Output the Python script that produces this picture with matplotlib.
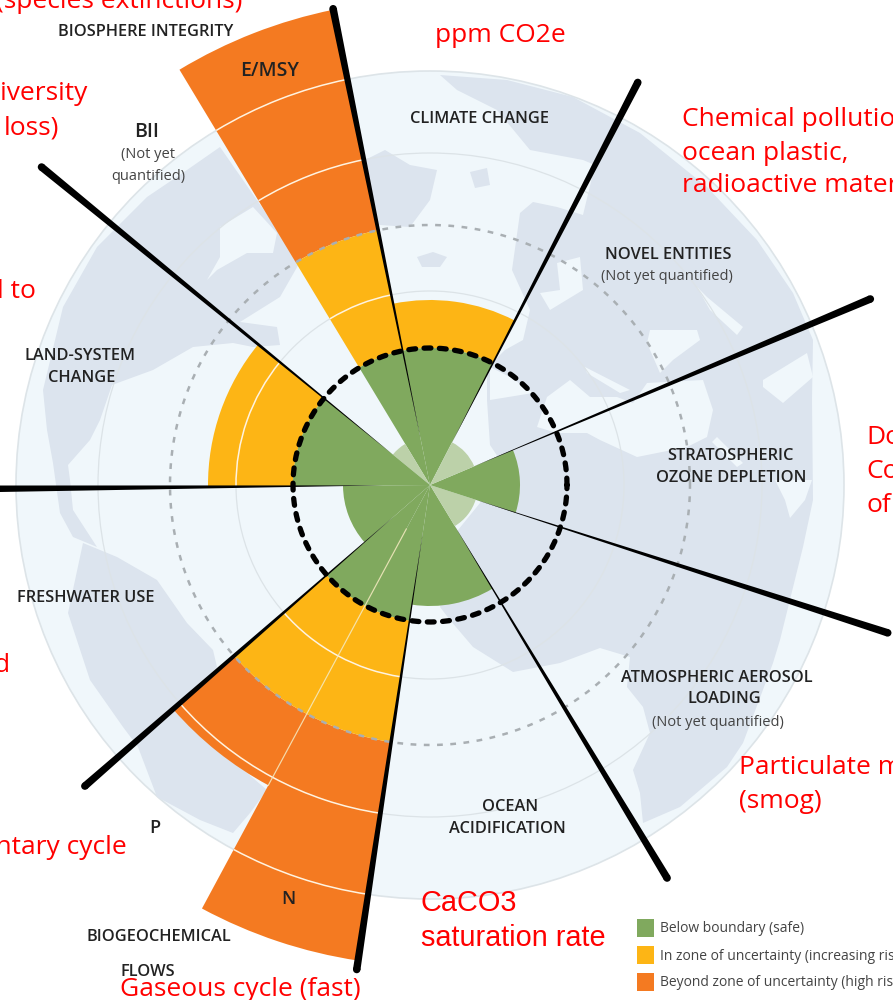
import numpy as np
import matplotlib
matplotlib.use("Agg")
import matplotlib.pyplot as plt
from matplotlib.patches import Wedge, Circle, Polygon, Arc

plt.rcParams["font.family"] = ["Open Sans", "DejaVu Sans"]

# reference centre of the diagram, in image pixels
cx, cy = 430, 485
W, H = 893, 1000

GREEN = "#80A95E"
PALE = "#BCD1A9"
YELLOW = "#FDB515"
ORANGE = "#F47A21"
LAND = "#DCE4EE"
SEA = "#F0F7FB"

# control variables, angles in degrees counter clockwise from east
sector_names = ["Climate", "E/MSY", "BII", "Land", "Freshwater", "P", "N", "Ocean", "Aerosol", "Ozone", "Novel"]
sector_start = [62.7, 101.5, 121.1, 140.7, 180.5, 221.1, 241.7, 261.4, 301.1, 342.1, 22.9]
sector_end = [101.5, 121.1, 140.7, 180.5, 221.1, 241.7, 261.4, 301.1, 342.1, 382.9, 62.7]
safe_r = [137, 137, 0, 137, 87, 137, 137, 121, 0, 90, 0]
uncertain_r = [185, 260, 0, 222, 0, 260, 260, 0, 0, 0, 0]
beyond_r = [0, 485, 0, 0, 0, 341, 481, 0, 0, 0, 0]
pale_r = [0, 0, 48, 0, 0, 0, 0, 0, 48, 0, 48]

spoke_angles = [101.5, 62.7, 22.9, -17.9, -58.9, 261.4, 221.1, 180.5, 140.7]
spoke_lengths = [486, 453, 478, 481, 459, 490, 458, 490, 502]

boundary_r = 137
uncertainty_r = 260
grid_r = [194, 332, 414]

# rough continents of the background map, image pixels
north_america = [(220,147),(187,170),(147,197),(97,247),(63,307),(43,390),(47,430),(53,463),(60,513),(73,537),(97,547),
                 (73,510),(70,480),(68,465),(90,440),(100,420),(112,385),(153,370),(193,347),(233,343),(253,347),
                 (280,345),(277,327),(240,322),(280,297),(300,262)]
hudson_bay = [(220,227),(253,207),(277,233),(273,253),(247,253),(217,270),(207,280),(220,257)]
south_america = [(83,543),(117,557),(157,580),(187,623),(213,650),(217,667),(177,713),(267,790),(250,813),(233,833),
                 (200,820),(157,797),(138,747),(123,727),(90,680),(68,613)]
greenland = [(365,160),(385,150),(410,165),(437,170),(430,200),(410,227),(380,225),(355,215)]
iceland = [(417,257),(433,252),(447,257),(440,267),(422,267)]
eurasia_africa = [(440,75),(507,80),(573,97),(640,133),(707,187),(757,240),(793,293),(813,340),(812,400),(813,500),
                  (803,547),(780,640),(773,663),(743,743),(727,767),(680,807),(643,823),(640,793),(633,770),(650,733),
                  (643,707),(627,687),(630,657),(600,648),(560,663),(513,672),(473,647),(450,620),(440,607),(458,530),
                  (480,503),(500,460),(490,445),(487,400),(487,368),(505,350),(523,340),(530,310),(512,270),(520,213),
                  (533,202),(557,207),(583,215),(595,165),(583,160),(530,150),(497,110),(457,90)]
small_island = [(470,172),(487,168),(490,185),(475,188)]
baltic = [(557,263),(580,257),(583,290),(550,310),(540,293),(560,290)]
biscay = [(490,367),(510,377),(533,393),(490,400)]
mediterranean = [(537,427),(547,397),(570,380),(590,397),(617,397),(633,403),(647,383),(703,380),(713,410),(707,437),
                 (687,447),(637,457),(600,440),(587,433),(557,433)]
black_sea = [(650,330),(697,330),(700,340),(673,360),(660,373),(647,343)]
caspian = [(697,287),(707,297),(743,327),(737,335),(710,310)]
adriatic = [(585,367),(630,390),(620,393),(587,373)]
gulf = [(763,380),(807,353),(813,377),(783,403),(763,387)]
red_sea = [(717,437),(743,463),(737,467),(712,442)]
india_sea = [(775,480),(812,480),(805,500),(790,518),(785,500)]

label_color = "#222222"
note_color = "#444444"


def to_xy(points):
    return [(x - cx, cy - y) for x, y in points]


def put(x, y, s, **kw):
    kw.setdefault("ha", "center")
    kw.setdefault("va", "center")
    kw.setdefault("zorder", 20)
    ax.text(x - cx, cy - y, s, **kw)


fig = plt.figure(figsize=(W / 100, H / 100), dpi=100)
ax = fig.add_axes([0, 0, 1, 1])
ax.set_xlim(-cx, W - cx)
ax.set_ylim(cy - H, cy)
ax.set_aspect("equal")
ax.axis("off")

# globe
ax.add_patch(Circle((0, 0), grid_r[2], fc=SEA, ec="#DDE4E8", lw=1.2, zorder=1))
for shape in [north_america, south_america, greenland, iceland, eurasia_africa, small_island]:
    ax.add_patch(Polygon(to_xy(shape), fc=LAND, ec="none", zorder=2))
for shape in [hudson_bay, baltic, biscay, mediterranean, black_sea, caspian, adriatic, gulf, red_sea, india_sea]:
    ax.add_patch(Polygon(to_xy(shape), fc=SEA, ec="none", zorder=3))
for r in grid_r[:2]:
    ax.add_patch(Circle((0, 0), r, fc="none", ec="#DCE3E7", lw=0.9, zorder=4))

# sectors
for a, b, s, u, o, p in zip(sector_start, sector_end, safe_r, uncertain_r, beyond_r, pale_r):
    if o:
        ax.add_patch(Wedge((0, 0), o, a, b, width=o - u, fc=ORANGE, ec="none", zorder=6))
    if u:
        ax.add_patch(Wedge((0, 0), u, a, b, width=u - s, fc=YELLOW, ec="none", zorder=6))
    if s:
        ax.add_patch(Wedge((0, 0), s, a, b, fc=GREEN, ec="none", zorder=6))
    if p:
        ax.add_patch(Wedge((0, 0), p, a, b, fc=PALE, ec="none", zorder=6))
    # white scale arcs across the coloured parts
    for r in grid_r:
        if s < r < max(u, o):
            ax.add_patch(Arc((0, 0), 2 * r, 2 * r, theta1=a, theta2=b, color="#FFF3E0", lw=1.1, zorder=7))

# pale divider between P and N
div = np.radians(sector_start[6])
ax.plot([50 * np.cos(div), beyond_r[5] * np.cos(div)], [50 * np.sin(div), beyond_r[5] * np.sin(div)],
        color="#F5E9BE", lw=0.9, alpha=0.8, zorder=7)

# dashed circles
t = np.linspace(0, 2 * np.pi, 720)
ax.plot(uncertainty_r * np.cos(t), uncertainty_r * np.sin(t), color="#A9AFB3", lw=1.8,
        dashes=(2.3, 3.0), zorder=8)
ax.plot(boundary_r * np.cos(t), boundary_r * np.sin(t), color="black", lw=3.8,
        dashes=(1.3, 1.6), dash_capstyle="round", zorder=10)

# tapered spokes
start_r = 47
tip_w = 7.5
for ang, length in zip(spoke_angles, spoke_lengths):
    th = np.radians(ang)
    d = np.array([np.cos(th), np.sin(th)])
    n = np.array([-d[1], d[0]])
    ax.add_patch(Polygon([start_r * d, length * d + n * tip_w / 2, length * d - n * tip_w / 2],
                         fc="black", ec="none", zorder=9))
    ax.add_patch(Circle(length * d, tip_w / 2, fc="black", ec="none", zorder=9))

# labels
lab = dict(fontsize=11.8, color=label_color, fontweight="semibold")
big = dict(fontsize=14, color=label_color, fontweight="semibold")
note = dict(fontsize=10.5, color=note_color)
put(146, 32, "BIOSPHERE INTEGRITY", **lab)
put(270, 71, "E/MSY", **big)
put(147, 132, "BII", **big)
put(148, 155, "(Not yet", **note)
put(148, 176, "quantified)", **note)
put(80, 356, "LAND-SYSTEM", **lab)
put(82, 378, "CHANGE", **lab)
put(479, 119, "CLIMATE CHANGE", **lab)
put(668, 255, "NOVEL ENTITIES", **lab)
put(667, 277, "(Not yet quantified)", **note)
put(730, 456, "STRATOSPHERIC", **lab)
put(731, 478, "OZONE DEPLETION", **lab)
put(717, 678, "ATMOSPHERIC AEROSOL", **lab)
put(724, 699, "LOADING", **lab)
put(718, 722, "(Not yet quantified)", **note)
put(510, 807, "OCEAN", **lab)
put(507, 829, "ACIDIFICATION", **lab)
put(86, 598, "FRESHWATER USE", **lab)
put(155, 828, "P", fontsize=13, color=label_color, fontweight="semibold")
put(288, 899, "N", fontsize=13, color=label_color, fontweight="semibold")
put(159, 937, "BIOGEOCHEMICAL", **lab)
put(148, 972, "FLOWS", **lab)

# red notes, several run off the canvas like the reference
red = dict(fontsize=19, color="#FF0000", zorder=21)
put(435, 35, "ppm CO2e", ha="left", **red)
put(682, 120, "Chemical pollution,", ha="left", **red)
put(682, 153, "ocean plastic,", ha="left", **red)
put(682, 186, "radioactive materials", ha="left", **red)
arial = dict(fontsize=20.8, color="#FF0000", zorder=21, family=["Liberation Sans", "DejaVu Sans"])
put(421, 903, "CaCO3", ha="left", **arial)
put(421, 938, "saturation rate", ha="left", **arial)
put(120, 990, "Gaseous cycle (fast)", ha="left", **red)
put(242, 2, "(species extinctions)", ha="right", **red)
put(866, 437, "Do", ha="left", **red)
put(866, 471, "Co", ha="left", **red)
put(866, 505, "of", ha="left", **red)
put(739, 767, "Particulate matter", ha="left", **red)
put(739, 801, "(smog)", ha="left", **red)
put(127, 847, "Sedimentary cycle", ha="right", **red)
put(88, 94, "diversity", ha="right", **red)
put(59, 128, "loss)", ha="right", **red)
put(36, 292, "l to", ha="right", **red)
put(10, 665, "d", ha="right", **red)

# legend
legend_colors = [GREEN, YELLOW, ORANGE]
legend_labels = ["Below boundary (safe)", "In zone of uncertainty (increasing risk)", "Beyond zone of uncertainty (high risk)"]
legend_y = [928, 955, 982]
for col, text, y in zip(legend_colors, legend_labels, legend_y):
    ax.add_patch(Polygon(to_xy([(637, y - 9), (654, y - 9), (654, y + 9), (637, y + 9)]), fc=col, ec="none", zorder=20))
    put(660, y + 1, text, ha="left", fontsize=10, color=note_color)

fig.savefig("out.png", dpi=100)
